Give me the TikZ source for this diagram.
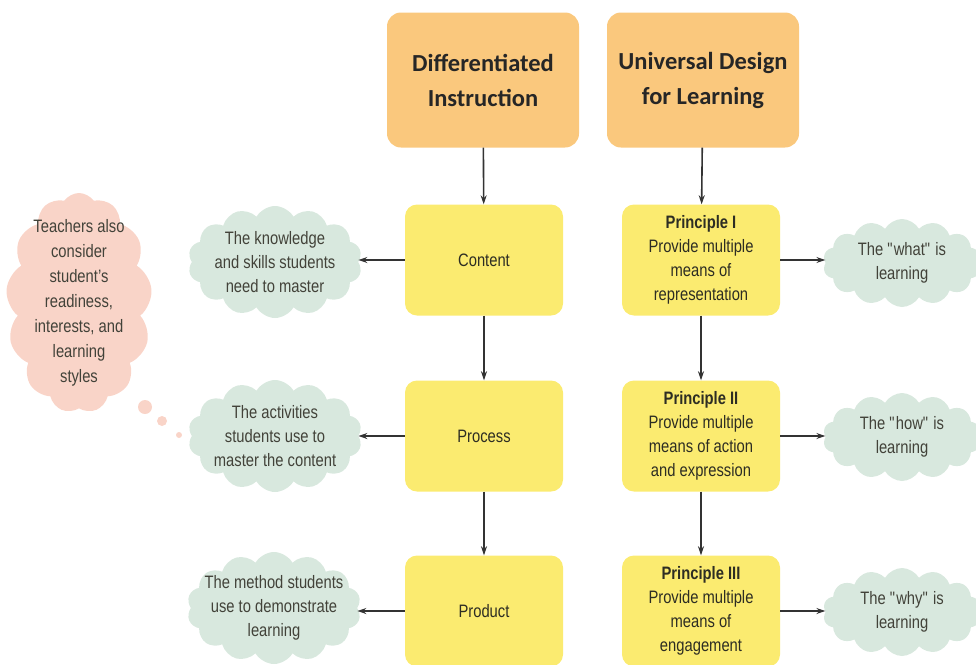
\documentclass[tikz,border=0pt]{standalone}
\usepackage{fontspec}
\setmainfont{Liberation Sans}[FakeStretch=0.82]
\newfontfamily\headfont{Carlito}
\usetikzlibrary{shapes.symbols,arrows.meta}

\definecolor{headorange}{RGB}{250,200,125}
\definecolor{boxyellow}{RGB}{251,235,112}
\definecolor{cloudgreen}{RGB}{216,232,222}
\definecolor{cloudpink}{RGB}{249,212,200}
\definecolor{inktext}{RGB}{45,45,35}

\tikzset{
    headbox/.style={fill=headorange, rounded corners=14pt, minimum width=192pt,
        minimum height=135pt, align=center, text=black!85,
        font=\headfont\bfseries\fontsize{24.5}{35}\selectfont},
    stepbox/.style={fill=boxyellow, rounded corners=12pt, minimum width=158pt,
        minimum height=111pt, align=center, text=inktext,
        font=\fontsize{18}{24}\selectfont},
    idea/.style={cloud, cloud puffs=14, cloud puff arc=120, fill=cloudgreen,
        inner sep=0pt},
    note/.style={idea, fill=cloudpink, cloud puffs=13, cloud puff arc=110},
    ideatext/.style={align=center, text=inktext!90, font=\fontsize{18}{24}\selectfont},
    arr/.style={-{Stealth[length=9pt,width=6pt]}, line width=1.6pt, black!80}
}

\begin{document}
\begin{tikzpicture}[x=1pt, y=-1pt]
    \clip (0,0) rectangle (976,664);
    \useasboundingbox (0,0) rectangle (976,664);

    % top headings
    \node[headbox] (di) at (483,80) {Differentiated\\Instruction};
    \node[headbox] (udl) at (703,80) {Universal Design\\for Learning};

    % differentiated instruction column
    \node[stepbox] (content) at (484,260) {Content};
    \node[stepbox] (process) at (484,436) {Process};
    \node[stepbox] (product) at (484,611) {Product};

    % udl principles
    \node[stepbox] (pone) at (701,260)
        {\textbf{Principle I}\\Provide multiple\\means of\\representation};
    \node[stepbox] (ptwo) at (701,436)
        {\textbf{Principle II}\\Provide multiple\\means of action\\and expression};
    \node[stepbox] (pthree) at (701,611)
        {\textbf{Principle III}\\Provide multiple\\means of\\engagement};

    % clouds on the left
    \node[idea, minimum width=174pt, minimum height=112pt] (know) at (275,262) {};
    \node[idea, minimum width=174pt, minimum height=112pt] (act) at (275,436) {};
    \node[idea, minimum width=174pt, minimum height=112pt] (meth) at (274,608) {};
    \node[ideatext] at (know) {The knowledge\\and skills students\\need to master};
    \node[ideatext] at (act) {The activities\\students use to\\master the content};
    \node[ideatext] at (meth) {The method students\\use to demonstrate\\learning};

    % clouds on the right
    \node[idea, minimum width=158pt, minimum height=88pt] (what) at (902,263) {};
    \node[idea, minimum width=158pt, minimum height=88pt] (how) at (902,437) {};
    \node[idea, minimum width=158pt, minimum height=88pt] (why) at (902,612) {};
    \node[ideatext] at (what) {The \textquotedbl what\textquotedbl{} is\\learning};
    \node[ideatext] at (how) {The \textquotedbl how\textquotedbl{} is\\learning};
    \node[ideatext] at (why) {The \textquotedbl why\textquotedbl{} is\\learning};

    % teacher note
    \node[note, minimum width=146pt, minimum height=220pt] (teach) at (79,303) {};
    \node[ideatext, font=\fontsize{18}{25}\selectfont] at (teach)
        {Teachers also\\consider\\student's\\readiness,\\interests, and\\learning\\styles};
    \fill[cloudpink] (145,407) circle (7pt);
    \fill[cloudpink] (162,421) circle (5pt);
    \fill[cloudpink] (179,435) circle (3pt);

    % arrows
    \draw[arr] (di) -- (content);
    \draw[arr] (content) -- (process);
    \draw[arr] (process) -- (product);
    \draw[arr] (udl) -- (pone);
    \draw[arr] (pone) -- (ptwo);
    \draw[arr] (ptwo) -- (pthree);
    \draw[arr] (content.west) -- (know.east |- content.west);
    \draw[arr] (process.west) -- (act.east |- process.west);
    \draw[arr] (product.west) -- (meth.east |- product.west);
    \draw[arr] (pone.east) -- (what.west |- pone.east);
    \draw[arr] (ptwo.east) -- (how.west |- ptwo.east);
    \draw[arr] (pthree.east) -- (why.west |- pthree.east);
\end{tikzpicture}
\end{document}
